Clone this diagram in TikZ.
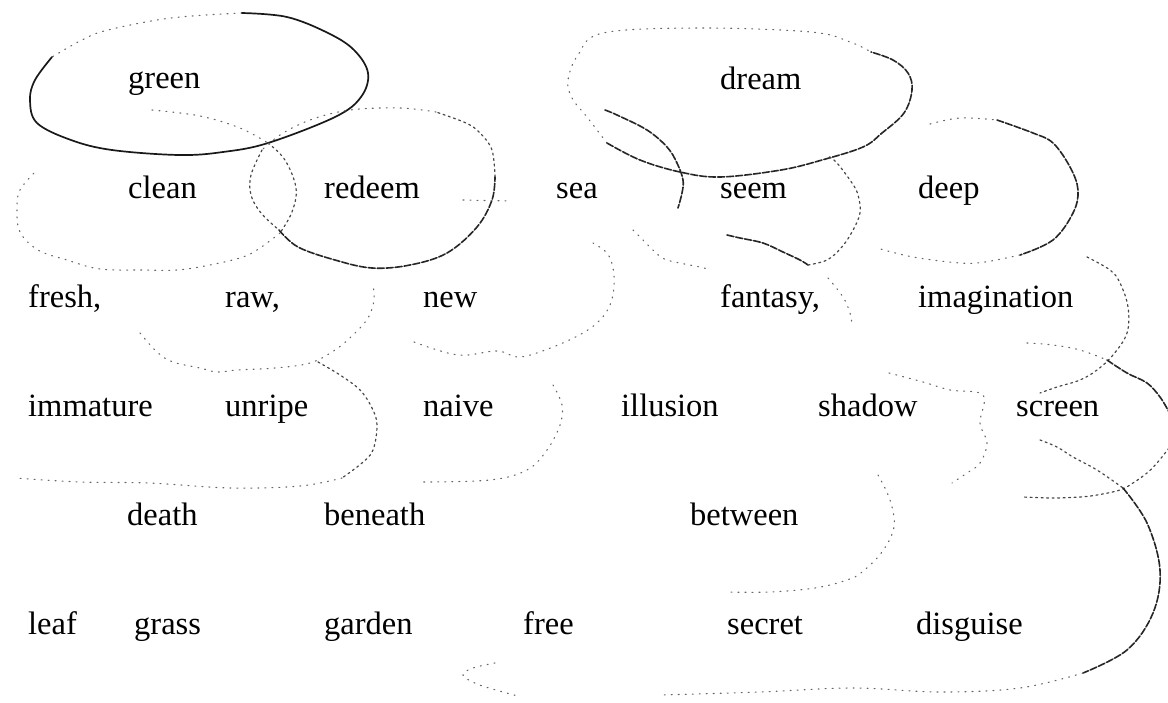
\documentclass[tikz,border=0pt]{standalone}
\usepackage{fontspec}
\setmainfont{Liberation Serif}
\begin{document}
\begin{tikzpicture}[x=1pt,y=-1pt,
  word/.style={anchor=base west,inner sep=0pt,font=\fontsize{32.5}{38}\selectfont},
  inksolid/.style={line width=1.7pt,black!90,line cap=round,line join=round},
  inkdash/.style={line width=1.6pt,black!85,dash pattern=on 7pt off 2pt,line cap=round},
  middot/.style={line width=1.2pt,black!72,dash pattern=on 2pt off 3.5pt,line cap=round},
  faintdot/.style={line width=1.1pt,black!60,dash pattern=on 1pt off 6pt,line cap=round},
  arc/.style={smooth,tension=0.6}]
\useasboundingbox[fill=white] (0,0) rectangle (1168,702);

% ---------------- words ----------------
\node[word] (green) at (128,88) {green};
\node[word] (dream) at (720,89) {dream};
\node[word] (clean) at (128,198) {clean};
\node[word] (redeem) at (324,198) {redeem};
\node[word] (sea) at (556,198) {sea};
\node[word] (seem) at (720,198) {seem};
\node[word] (deep) at (918,198) {deep};
\node[word] (fresh) at (28,307) {fresh,};
\node[word] (raw) at (225,307) {raw,};
\node[word] (new) at (423,307) {new};
\node[word] (fantasy) at (720,307) {fantasy,};
\node[word] (imagination) at (918,307) {imagination};
\node[word] (immature) at (28,416) {immature};
\node[word] (unripe) at (225,416) {unripe};
\node[word] (naive) at (423,416) {naive};
\node[word] (illusion) at (621,416) {illusion};
\node[word] (shadow) at (818,416) {shadow};
\node[word] (screen) at (1016,416) {screen};
\node[word] (death) at (127,525) {death};
\node[word] (beneath) at (324,525) {beneath};
\node[word] (between) at (690,525) {between};
\node[word] (leaf) at (28,634) {leaf};
\node[word] (grass) at (134,634) {grass};
\node[word] (garden) at (324,634) {garden};
\node[word] (free) at (523,634) {free};
\node[word] (secret) at (727,634) {secret};
\node[word] (disguise) at (916,634) {disguise};

% ---------------- green ellipse ----------------
\draw[faintdot] plot[arc] coordinates {(242,13) (171,18) (108,30) (82,40) (52,57)};
\draw[inksolid] plot[arc] coordinates {(52,57) (35,80) (30,100) (37,123) (71,140) (112,150) (179,155) (223,152) (268,143) (335,117) (361,97) (368,73) (354,50) (328,33) (287,17) (242,13)};

% ---------------- clean ellipse ----------------
\draw[faintdot] plot[arc] coordinates {(152,110) (200,116) (240,128) (268,143)};
\draw[middot] plot[arc] coordinates {(268,143) (285,160) (296,188) (292,212) (280,233)};
\draw[faintdot] plot[arc] coordinates {(280,233) (260,248) (243,257) (210,265) (177,270) (143,270) (100,269) (67,260) (38,250) (20,232) (17,210) (20,190) (37,170)};

% ---------------- redeem ellipse ----------------
\draw[middot] plot[arc] coordinates {(262,150) (251,175) (251,195) (261,213) (279,230)};
\draw[inkdash] plot[arc] coordinates {(279,230) (298,247) (335,260) (372,268) (410,265) (447,253) (477,227) (492,200) (495,177)};
\draw[middot] plot[arc] coordinates {(495,177) (492,150) (480,133) (466,123) (436,112)};
\draw[faintdot] plot[arc] coordinates {(436,112) (400,108) (350,110) (310,120) (280,135) (262,150)};

% ---------------- raw / unripe / naive arcs ----------------
\draw[faintdot] plot[arc] coordinates {(140,333) (157,352) (173,362) (200,368) (217,372) (237,370) (275,368) (310,363) (335,350) (353,335) (368,318) (374,300) (373,285)};
\draw[middot] plot[arc] coordinates {(318,362) (340,375) (360,390) (372,408) (377,425) (373,450) (362,463) (342,478)};
\draw[faintdot] plot[arc] coordinates {(342,478) (300,486) (231,488) (149,483) (80,482) (15,478)};
\draw[faintdot] plot[arc] coordinates {(553,385) (562,405) (560,425) (547,450) (527,470) (490,480) (422,482)};
\draw[faintdot] plot[arc] coordinates {(414,342) (458,355) (497,351) (520,357) (553,347) (583,333) (600,320) (610,305) (614,287) (613,268) (607,253) (593,243)};

% ---------------- sea ----------------
\draw[inkdash] plot[arc] coordinates {(605,110) (617,115) (647,130) (667,147) (677,163) (683,180) (682,193) (678,208)};
\draw[faintdot] (463,200) -- (510,201);

% ---------------- dream ellipse ----------------
\draw[faintdot] plot[arc] coordinates {(607,143) (587,117) (572,98) (568,80) (578,55) (603,33) (700,28) (811,32) (850,42) (871,52)};
\draw[inkdash] plot[arc] coordinates {(607,143) (640,160) (680,172) (720,177) (781,170) (822,160) (863,147) (882,133) (904,113) (912,90) (908,73) (893,60) (871,52)};

% ---------------- seem / fantasy ----------------
\draw[inkdash] plot[arc] coordinates {(727,235) (740,238) (763,243) (783,252) (800,260) (808,265)};
\draw[middot] plot[arc] coordinates {(808,265) (827,260) (841,248) (852,232) (860,213) (858,195) (852,183) (837,163) (828,156)};
\draw[faintdot] plot[arc] coordinates {(633,230) (643,240) (655,252) (667,260) (700,267) (707,269)};
\draw[faintdot] plot[arc] coordinates {(828,278) (843,297) (850,313) (852,325)};

% ---------------- deep ellipse ----------------
\draw[faintdot] plot[arc] coordinates {(930,124) (960,118) (997,120)};
\draw[inkdash] plot[arc] coordinates {(997,120) (1033,133) (1053,143) (1070,167) (1078,190) (1073,213) (1053,240) (1020,255)};
\draw[faintdot] plot[arc] coordinates {(1020,255) (985,262) (960,263) (913,257) (877,248)};

% ---------------- imagination ellipse ----------------
\draw[middot] plot[arc] coordinates {(1087,257) (1110,270) (1120,283) (1128,307) (1127,333) (1113,355) (1097,370) (1080,380) (1057,387) (1040,393)};

% ---------------- screen ellipse ----------------
\draw[faintdot] plot[arc] coordinates {(1027,343) (1053,345) (1080,350) (1107,360)};
\draw[inkdash] plot[arc] coordinates {(1107,360) (1127,373) (1147,383) (1160,397) (1169,412)};
\draw[middot] plot[arc] coordinates {(1169,448) (1157,463) (1147,473) (1133,483) (1120,490) (1097,495) (1080,497) (1053,498) (1023,497)};

% ---------------- big right arc ----------------
\draw[middot] plot[arc] coordinates {(1040,440) (1057,447) (1073,457) (1097,470) (1123,488)};
\draw[inkdash] plot[arc] coordinates {(1123,488) (1147,523) (1160,570) (1153,613) (1127,650) (1083,673)};
\draw[faintdot] plot[arc] coordinates {(1083,673) (1020,688) (940,692) (853,688) (760,692) (660,695)};

% ---------------- shadow / between / free ----------------
\draw[faintdot] plot[arc] coordinates {(889,373) (923,382) (950,390) (983,395) (980,423) (987,443) (980,463) (967,473) (952,483)};
\draw[faintdot] plot[arc] coordinates {(878,475) (890,500) (894,527) (882,552) (862,572) (847,580) (815,588) (770,592) (727,592)};
\draw[faintdot] plot[arc] coordinates {(495,663) (473,668) (463,675) (477,684) (503,692) (518,696)};
\end{tikzpicture}
\end{document}
